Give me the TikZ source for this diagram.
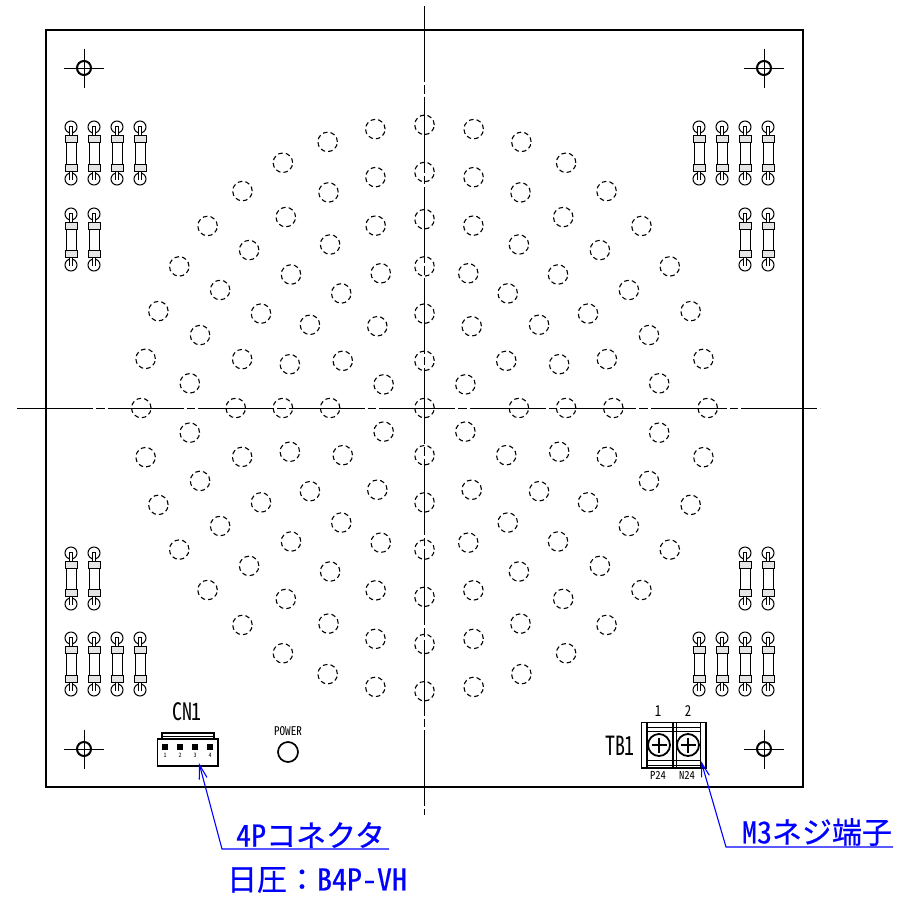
\documentclass[tikz,border=0pt]{standalone}
\usepackage{fontspec}
\usepackage{graphicx}
\setmainfont{Liberation Sans}
\newfontfamily\cjk[RawFeature={+hwid;embolden=0.6}]{Noto Sans CJK JP}
\newfontfamily\cjkthin[RawFeature=+hwid]{Noto Sans CJK JP}
\newfontfamily\cjkfull[RawFeature={embolden=0.6}]{Noto Sans CJK JP}
\usetikzlibrary{arrows.meta}
\definecolor{leaderblue}{RGB}{0,0,255}
\tikzset{
  x=1pt,y=-1pt,
  hole/.style={draw,circle,dash pattern=on 4.6pt off 3.1pt,line width=1.1pt,minimum size=19.5pt,inner sep=0pt},
  board/.style={draw,line width=2.4pt},
  centerline/.style={line width=1pt,dash pattern=on 76pt off 3pt on 8.5pt off 3pt},
  lead/.style={line width=1pt},
  bluetext/.style={text=leaderblue,font=\cjk\fontsize{30}{30}\selectfont,inner sep=0pt},
  leader/.style={draw=leaderblue,line width=1.1pt,-{Straight Barb[length=14pt,width=8pt,line width=1.1pt]}},
  tag/.style={inner sep=0pt,font=\cjkthin\fontsize{24}{24}\selectfont},
  digit/.style={inner sep=0pt,font=\cjkthin\fontsize{15}{15}\selectfont},
  small/.style={inner sep=0pt,font=\cjkthin\fontsize{12}{12}\selectfont},
  fine/.style={inner sep=0pt,font=\cjkthin\fontsize{11}{11}\selectfont},
  tiny/.style={inner sep=0pt,font=\cjkthin\fontsize{6}{6}\selectfont},
}
\newcommand{\fixhole}[2]{%
  \begin{scope}[shift={(#1,#2)}]
    \draw[line width=2pt] (0,0) circle (7);
    \draw[line width=1pt] (-20,0) -- (20,0) (0,-19.5) -- (0,19.5);
  \end{scope}}
\newcommand{\rpart}[3]{%
  \begin{scope}[shift={(#1,0)}]
    \draw[lead] (0,#2) circle (6) (0,#3) circle (6);
    \draw[line width=3.6pt] (0,#2-1) -- (0,#2+8) (0,#3+1) -- (0,#3-8);
    \draw[white,line width=1.3pt] (0,#2-.5) -- (0,#2+8) (0,#3+.5) -- (0,#3-8);
    \draw[line width=1pt,fill=white] (-5,#2+8) rectangle (5,#3-8);
    \draw[line width=1pt,fill=white!90!black] (-6,#2+8) rectangle (6,#2+15);
    \draw[line width=1pt,fill=white!90!black] (-6,#3-15) rectangle (6,#3-8);
  \end{scope}}
\begin{document}
\begin{tikzpicture}
\useasboundingbox (0,0) rectangle (903,898);
% board
\draw[board] (46,30) rectangle (803,787);
% centre lines
\coordinate (hA) at (17,408); \coordinate (hB) at (820,408);
\coordinate (vA) at (424.5,6); \coordinate (vB) at (424.5,815);
\draw[centerline] (hA) -- (hB);
\draw[centerline] (vA) -- (vB);
% fixing holes
\fixhole{84}{68}\fixhole{764}{68}\fixhole{84}{749}\fixhole{764}{749}
% holes
\node[hole] at (424.5,408) {};
\foreach \r/\n/\o in {47.2/6/30, 94.4/12/0, 141.6/20/0, 188.8/24/0, 236/30/6, 283.2/36/0}{
  \pgfmathsetmacro{\st}{360/\n}
  \foreach \k in {1,...,\n}{
    \node[hole] at ({424.5+\r*cos(\o+\k*\st)},{408+\r*sin(\o+\k*\st)}) {};
  }
}
% parts
\foreach \x in {71,94,117,140,699,722,745,768}{\rpart{\x}{127}{179}}
\foreach \x in {71,94,745,768}{\rpart{\x}{214}{265}}
\foreach \x in {71,94,745,768}{\rpart{\x}{553}{604}}
\foreach \x in {71,94,117,140,699,722,745,768}{\rpart{\x}{638}{690}}
% CN1
\node[tag] (cn1) at (187,712) {\scalebox{.83}[1]{CN1}};
\draw[line width=1.2pt] (162,739) -- (162,733) -- (214,733) -- (214,739);
\draw[line width=.8pt] (162,736) -- (214,736);
\draw[line width=1.8pt,fill=white] (157.5,739) rectangle (218,766);
\foreach \x/\t in {165/1,180/2,195/3,210/4}{
  \fill (\x-3,744) rectangle (\x+3,750);
  \node[tiny] at (\x,755) {\t};
}
\coordinate (cntip) at (199,763);
% power
\node[small] (pwr) at (288,731.5) {\scalebox{.93}[1]{POWER}};
\draw[line width=1.7pt] (288,752) circle (10);
% TB1
\node[tag] (tb) at (620,745.5) {\scalebox{.83}[1.1]{TB1}};
\node[digit] at (658,711) {\scalebox{.85}[1]{1}};
\node[digit] at (688,711) {\scalebox{.85}[1]{2}};
\draw[line width=.8pt] (646.5,727) -- (701,727) (646.5,731.5) -- (701,731.5) (646.5,760.5) -- (701,760.5) (646.5,765) -- (701,765);
\draw[line width=1.7pt] (641.5,722.5) rectangle (706,768);
\draw[line width=1.8pt] (647,722.5) -- (647,768) (673,722.5) -- (673,768) (676.5,722.5) -- (676.5,768) (700.5,722.5) -- (700.5,768);
\foreach \x in {659,688}{
  \draw[line width=1.8pt,fill=white] (\x,745) circle (11);
  \draw[line width=1.5pt] (\x-7.5,745) -- (\x+7.5,745) (\x,737.5) -- (\x,752.5);
}
\node[fine] at (658,775) {\scalebox{.97}[1]{P24}};
\node[fine] at (687,775) {\scalebox{.97}[1]{N24}};
\coordinate (tbtip) at (701,761);
% labels
\node[bluetext] (lc) at (310.5,835) {4Pコネクタ};
\node[bluetext] (lc2) at (317,880) {{\cjkfull 日圧：}B4P-VH};
\node[bluetext] (lm) at (817,832) {M3ネジ端子};
\coordinate (lcA) at (222,849); \coordinate (lcB) at (389,849);
\coordinate (lmA) at (726,847); \coordinate (lmB) at (893,847);
\draw[leader] (lcB) -- (lcA) -- (cntip);
\draw[leader] (lmB) -- (lmA) -- (tbtip);
\end{tikzpicture}
\end{document}
